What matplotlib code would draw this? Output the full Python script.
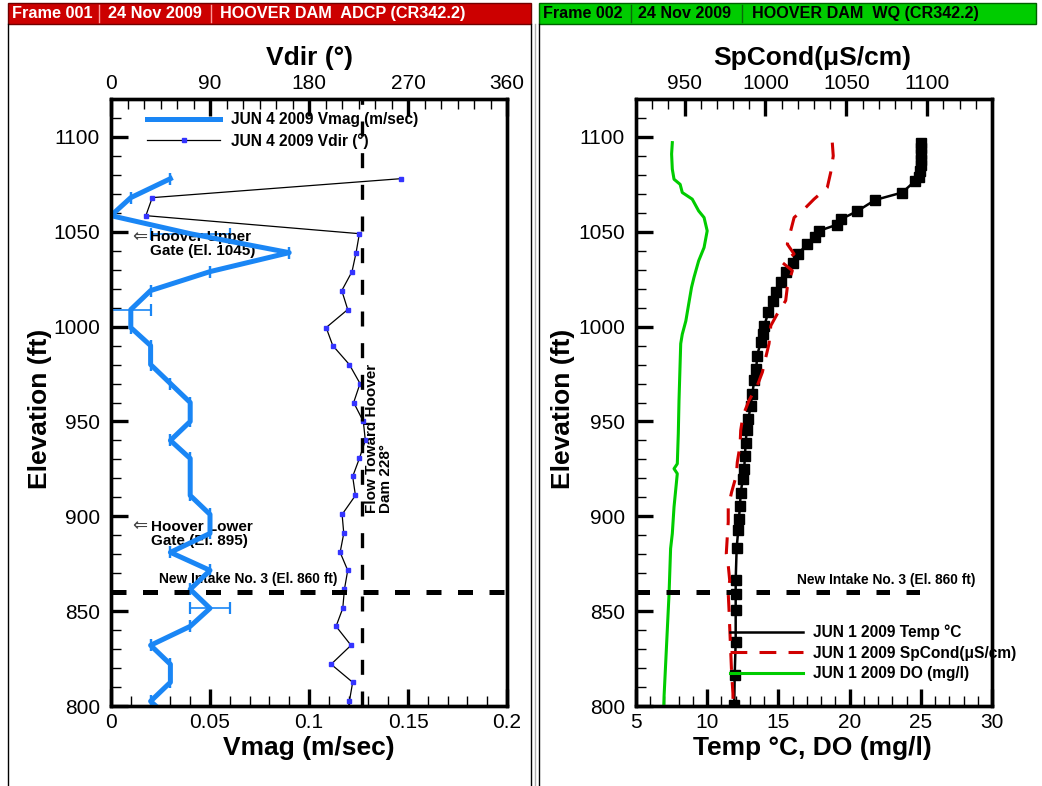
import matplotlib
matplotlib.use("Agg")
import matplotlib.pyplot as plt
from matplotlib.lines import Line2D
from matplotlib.patches import Rectangle
from matplotlib.ticker import MultipleLocator, FuncFormatter

plt.rcParams['font.family'] = ['Liberation Sans', 'DejaVu Sans']

W, H = 1042, 786

# ---------------- ADCP profile, Jun 4 2009 ----------------
adcp_elev = [1078, 1068, 1058.5, 1049, 1039, 1029, 1019, 1009, 999.5, 990,
             980, 970, 960, 950, 940, 930.5, 921, 911, 901, 891,
             881, 871.5, 861.5, 851.5, 842, 832, 822, 812.5, 802.5, 793]
vmag = [0.03, 0.01, 0.0, 0.04, 0.09, 0.05, 0.02, 0.01, 0.01, 0.02,
        0.02, 0.03, 0.04, 0.04, 0.03, 0.04, 0.04, 0.04, 0.05, 0.05,
        0.03, 0.05, 0.04, 0.05, 0.04, 0.02, 0.03, 0.03, 0.02, 0.03]
vmag_err = [0, 0, 0, 0.02, 0, 0, 0, 0.01, 0, 0,
            0, 0, 0, 0, 0, 0, 0, 0, 0, 0,
            0, 0, 0, 0.01, 0, 0, 0, 0, 0, 0]
vdir = [263.6, 37.5, 31.7, 225.8, 222.8, 219.1, 209.8, 215.2, 195.6, 201.6,
        216.7, 226.4, 220.6, 229.4, 231.2, 225.8, 219.7, 222.2, 210.1, 211.6,
        208.3, 215.2, 212.2, 210.7, 204.6, 218.2, 200.1, 219.7, 216.7, 214.0]

# ---------------- Water-quality profile, Jun 1 2009 ----------------
temp_elev = [1097, 1094, 1091, 1088, 1085, 1082, 1079, 1076.8, 1070.7, 1066.8,
             1060.7, 1056.7, 1053.7, 1050.5, 1047, 1043.5, 1038.3, 1033.8, 1028.6, 1023.3,
             1018, 1013.5, 1007.5, 1000.5, 996, 991.7, 984.7, 977.7, 971.6, 964.6,
             958.4, 951.4, 945.3, 938.6, 932, 925.1, 919.8, 912.3, 905.3, 898.8,
             892.6, 883.5, 866.3, 859, 850.5, 833.8, 816.3, 800.5]
temp = [25.0, 25.0, 25.0, 25.0, 25.0, 24.95, 24.9, 24.6, 23.7, 21.8,
        20.5, 19.4, 19.1, 17.85, 17.6, 17.0, 16.4, 16.0, 15.5, 15.2,
        14.8, 14.6, 14.3, 14.0, 13.9, 13.76, 13.5, 13.45, 13.3, 13.17,
        13.05, 12.9, 12.77, 12.7, 12.65, 12.6, 12.5, 12.35, 12.3, 12.23,
        12.18, 12.07, 12.0, 12.0, 12.0, 12.0, 11.93, 11.9]

do_elev = [1097, 1091, 1083, 1077.7, 1075, 1070.7, 1067.2, 1061, 1057.5, 1050.5,
           1041.7, 1034.7, 1025.9, 1020.7, 1011.9, 1003, 996, 991, 978.6, 961,
           943.5, 927.7, 925.1, 922.5, 904.9, 890.9, 883, 859, 804.9, 800]
do_mgl = [7.55, 7.5, 7.55, 7.67, 8.1, 8.25, 8.95, 9.4, 9.78, 10.0,
          9.78, 9.4, 9.07, 8.9, 8.7, 8.5, 8.25, 8.14, 8.09, 8.02,
          7.97, 7.9, 7.67, 7.9, 7.67, 7.55, 7.43, 7.32, 6.97, 6.95]

spc_elev = [1097, 1090, 1081.2, 1073.3, 1067.2, 1062.8, 1057.5, 1050.5, 1043.5, 1038.3,
            1033.8, 1029.5, 1020.7, 1013.7, 1006.7, 1000.5, 991, 983.8, 976, 969,
            961, 953, 945.3, 937.4, 928.6, 921.6, 912.8, 904.9, 897, 889,
            880.4, 874.2, 866.3, 859.3, 850.5, 841.7, 829.5, 817.2, 806.7, 800.5]
spcond = [1041.3, 1041.9, 1040.3, 1038.2, 1030.0, 1024.9, 1017.7, 1015.6, 1013.5, 1017.7,
          1010.4, 1016.6, 1013.5, 1012.5, 1007.3, 1003.3, 1002.2, 1000.2, 998.1, 995.0,
          989.8, 986.1, 984.7, 984.3, 982.6, 982.0, 979.1, 977.0, 977.0, 976.4,
          975.8, 977.0, 977.9, 977.0, 977.5, 977.9, 978.5, 979.1, 979.9, 980.0]

intake_elev = 860
flow_dir = 228

ELEV_LIM = (800, 1120)
BLUE = '#1a86f5'
MARK_BLUE = '#3434ff'
RED = '#d00000'
GREEN = '#00cc00'
LABEL_SIZE = 19
NOTE_SIZE = 9.9
LEG_SIZE = 11.2


def px_box(x0, y0, x1, y1):
    return [x0 / W, 1 - y1 / H, (x1 - x0) / W, (y1 - y0) / H]


def style_axis(ax, axis, top=False):
    ax.tick_params(axis=axis, which='major', direction='in', length=12,
                   width=2.4, labelsize=15, pad=(4 if top else (8 if axis == 'y' else 5)))
    ax.tick_params(axis=axis, which='minor', direction='in', length=7, width=1.0)


gfmt = FuncFormatter(lambda v, p: f'{v:g}')

fig = plt.figure(figsize=(W / 100, H / 100), dpi=100)

# ---------------- header bars and panel frames ----------------
fig.add_artist(Rectangle((8 / W, 1 - 24 / H), (531 - 8) / W, 21 / H,
                         transform=fig.transFigure, facecolor='#cc0000',
                         edgecolor='#700000', lw=1))
fig.add_artist(Rectangle((539 / W, 1 - 24 / H), (1036 - 539) / W, 21 / H,
                         transform=fig.transFigure, facecolor=GREEN,
                         edgecolor='#006000', lw=1))
for x, txt in [(12, 'Frame 001'), (108, '24 Nov 2009'), (220, 'HOOVER DAM  ADCP (CR342.2)')]:
    fig.text(x / W, 1 - 13.5 / H, txt, color='white', weight='bold', size=11.7, va='center')
for x, txt in [(543, 'Frame 002'), (638, '24 Nov 2009'), (752, 'HOOVER DAM  WQ (CR342.2)')]:
    fig.text(x / W, 1 - 13.5 / H, txt, color='black', weight='bold', size=11.6, va='center')
for x, c in [(99, '#ff9a9a'), (211, '#ff9a9a'), (631, '#0a6a0a'), (742, '#0a6a0a')]:
    fig.add_artist(Line2D([x / W, x / W], [1 - 5 / H, 1 - 22 / H], color=c, lw=1,
                          transform=fig.transFigure))
for x, c in [(8, 'black'), (531, 'black'), (535, '#b0b0b0'), (539, 'black')]:
    fig.add_artist(Line2D([x / W, x / W], [0, 1 - 24 / H], color=c, lw=1,
                          transform=fig.transFigure))

# ---------------- left panel: ADCP ----------------
axL = fig.add_axes(px_box(111, 99, 507, 706))
axL.errorbar(vmag, adcp_elev, xerr=vmag_err, color=BLUE, lw=3.6,
             elinewidth=1.2, capsize=4.3, capthick=1.6, zorder=3)
axL.set_xlim(0, 0.2)
axL.set_ylim(*ELEV_LIM)
axL.xaxis.set_major_locator(MultipleLocator(0.05))
axL.xaxis.set_minor_locator(MultipleLocator(0.01))
axL.xaxis.set_major_formatter(gfmt)
axL.yaxis.set_major_locator(MultipleLocator(50))
axL.yaxis.set_minor_locator(MultipleLocator(10))
style_axis(axL, 'x')
style_axis(axL, 'y')
axL.set_xlabel('Vmag (m/sec)', size=LABEL_SIZE, weight='bold', va='center')
axL.xaxis.set_label_coords(0.5, (706 - 748) / 607)
axL.set_ylabel('Elevation (ft)', size=LABEL_SIZE, weight='bold', va='center')
axL.yaxis.set_label_coords((40 - 111) / 396, 0.49)

axL2 = axL.twiny()
axL2.plot(vdir, adcp_elev, color='black', lw=0.9, marker='s', ms=2.6,
          mfc=MARK_BLUE, mec=MARK_BLUE, zorder=3)
axL2.plot([flow_dir, flow_dir], list(ELEV_LIM), color='black', lw=2.4,
          dashes=(4.5, 5), zorder=4)
axL2.axhline(intake_elev, color='black', lw=3.6, dashes=(3, 3.3), zorder=5)
axL2.set_xlim(0, 360)
axL2.set_ylim(*ELEV_LIM)
axL2.xaxis.set_major_locator(MultipleLocator(90))
axL2.xaxis.set_minor_locator(MultipleLocator(15))
axL2.xaxis.set_major_formatter(gfmt)
style_axis(axL2, 'x', top=True)
axL2.set_xlabel('Vdir (°)', size=LABEL_SIZE, weight='bold', va='center')
axL2.xaxis.set_label_coords(0.5, (706 - 58) / 607)

for ax in (axL, axL2):
    for s in ax.spines.values():
        s.set_linewidth(2.4)

ann = dict(weight='bold', size=11, ha='left', va='center', linespacing=1.0)
axL.text(0.0105, 1047.2, '⇐', size=13, ha='left', va='center', color='#444444')
axL.text(0.0198, 1043.3, 'Hoover Upper\nGate (El. 1045)', **ann)
axL.text(0.0105, 894.5, '⇐', size=13, ha='left', va='center', color='#444444')
axL.text(0.0202, 890.8, 'Hoover Lower\nGate (El. 895)', **ann)
axL.text(0.0241, 866.8, 'New Intake No. 3 (El. 860 ft)', weight='bold', size=NOTE_SIZE,
         ha='left', va='center')
axL.text(0.1285, 902, 'Flow Toward Hoover\nDam 228°', weight='bold', size=11,
         rotation=90, ha='left', va='bottom', linespacing=1.0)

handlesL = [Line2D([], [], color=BLUE, lw=3.6),
            Line2D([], [], color='black', lw=0.9, marker='s', ms=2.6,
                   mfc=MARK_BLUE, mec=MARK_BLUE)]
axL2.legend(handlesL, ['JUN 4 2009 Vmag (m/sec)', 'JUN 4 2009 Vdir (°)'],
            loc='upper left', bbox_to_anchor=(0.091, 0.978), frameon=False,
            prop={'weight': 'bold', 'size': LEG_SIZE}, handlelength=4.7,
            handletextpad=0.7, labelspacing=0.36, borderpad=0,
            borderaxespad=0, numpoints=1)

# ---------------- right panel: water quality ----------------
axR = fig.add_axes(px_box(636, 99, 992, 706))
axR.plot(do_mgl, do_elev, color=GREEN, lw=2.2, zorder=3)
axR.plot(temp, temp_elev, color='black', lw=1.8, marker='s', ms=6.5, zorder=3)
axR.set_xlim(5, 30)
axR.set_ylim(*ELEV_LIM)
axR.xaxis.set_major_locator(MultipleLocator(5))
axR.xaxis.set_minor_locator(MultipleLocator(1))
axR.yaxis.set_major_locator(MultipleLocator(50))
axR.yaxis.set_minor_locator(MultipleLocator(10))
style_axis(axR, 'x')
style_axis(axR, 'y')
axR.set_xlabel('Temp °C, DO (mg/l)', size=LABEL_SIZE, weight='bold', va='center')
axR.xaxis.set_label_coords((812 - 636) / 356, (706 - 748) / 607)
axR.set_ylabel('Elevation (ft)', size=LABEL_SIZE, weight='bold', va='center')
axR.yaxis.set_label_coords((563 - 636) / 356, 0.49)

axR2 = axR.twiny()
axR2.plot(spcond, spc_elev, color=RED, lw=2.2, dashes=(5.5, 4), zorder=3)
axR2.set_xlim(920, 1140)
axR2.set_ylim(*ELEV_LIM)
axR2.xaxis.set_major_locator(MultipleLocator(50))
axR2.xaxis.set_minor_locator(MultipleLocator(10))
style_axis(axR2, 'x', top=True)
axR2.set_xlabel('SpCond(μS/cm)', size=LABEL_SIZE, weight='bold', va='center')
axR2.xaxis.set_label_coords(0.496, (706 - 58) / 607)
axR.plot([5, 25.7], [intake_elev, intake_elev], color='black', lw=3.6,
         dashes=(2.7, 3.3), zorder=5)
axR.text(16.3, 866.5, 'New Intake No. 3 (El. 860 ft)', weight='bold', size=NOTE_SIZE,
         ha='left', va='center')

for ax in (axR, axR2):
    for s in ax.spines.values():
        s.set_linewidth(2.4)

handlesR = [Line2D([], [], color='black', lw=1.8),
            Line2D([], [], color=RED, lw=2.2, dashes=(5.5, 4)),
            Line2D([], [], color=GREEN, lw=2.2)]
axR2.legend(handlesR, ['JUN 1 2009 Temp °C', 'JUN 1 2009 SpCond(μS/cm)',
                       'JUN 1 2009 DO (mg/l)'],
            loc='upper left', bbox_to_anchor=(0.264, 0.134), frameon=False,
            prop={'weight': 'bold', 'size': LEG_SIZE}, handlelength=4.7,
            handletextpad=0.65, labelspacing=0.36, borderpad=0,
            borderaxespad=0)

fig.savefig('out.png', dpi=100)
